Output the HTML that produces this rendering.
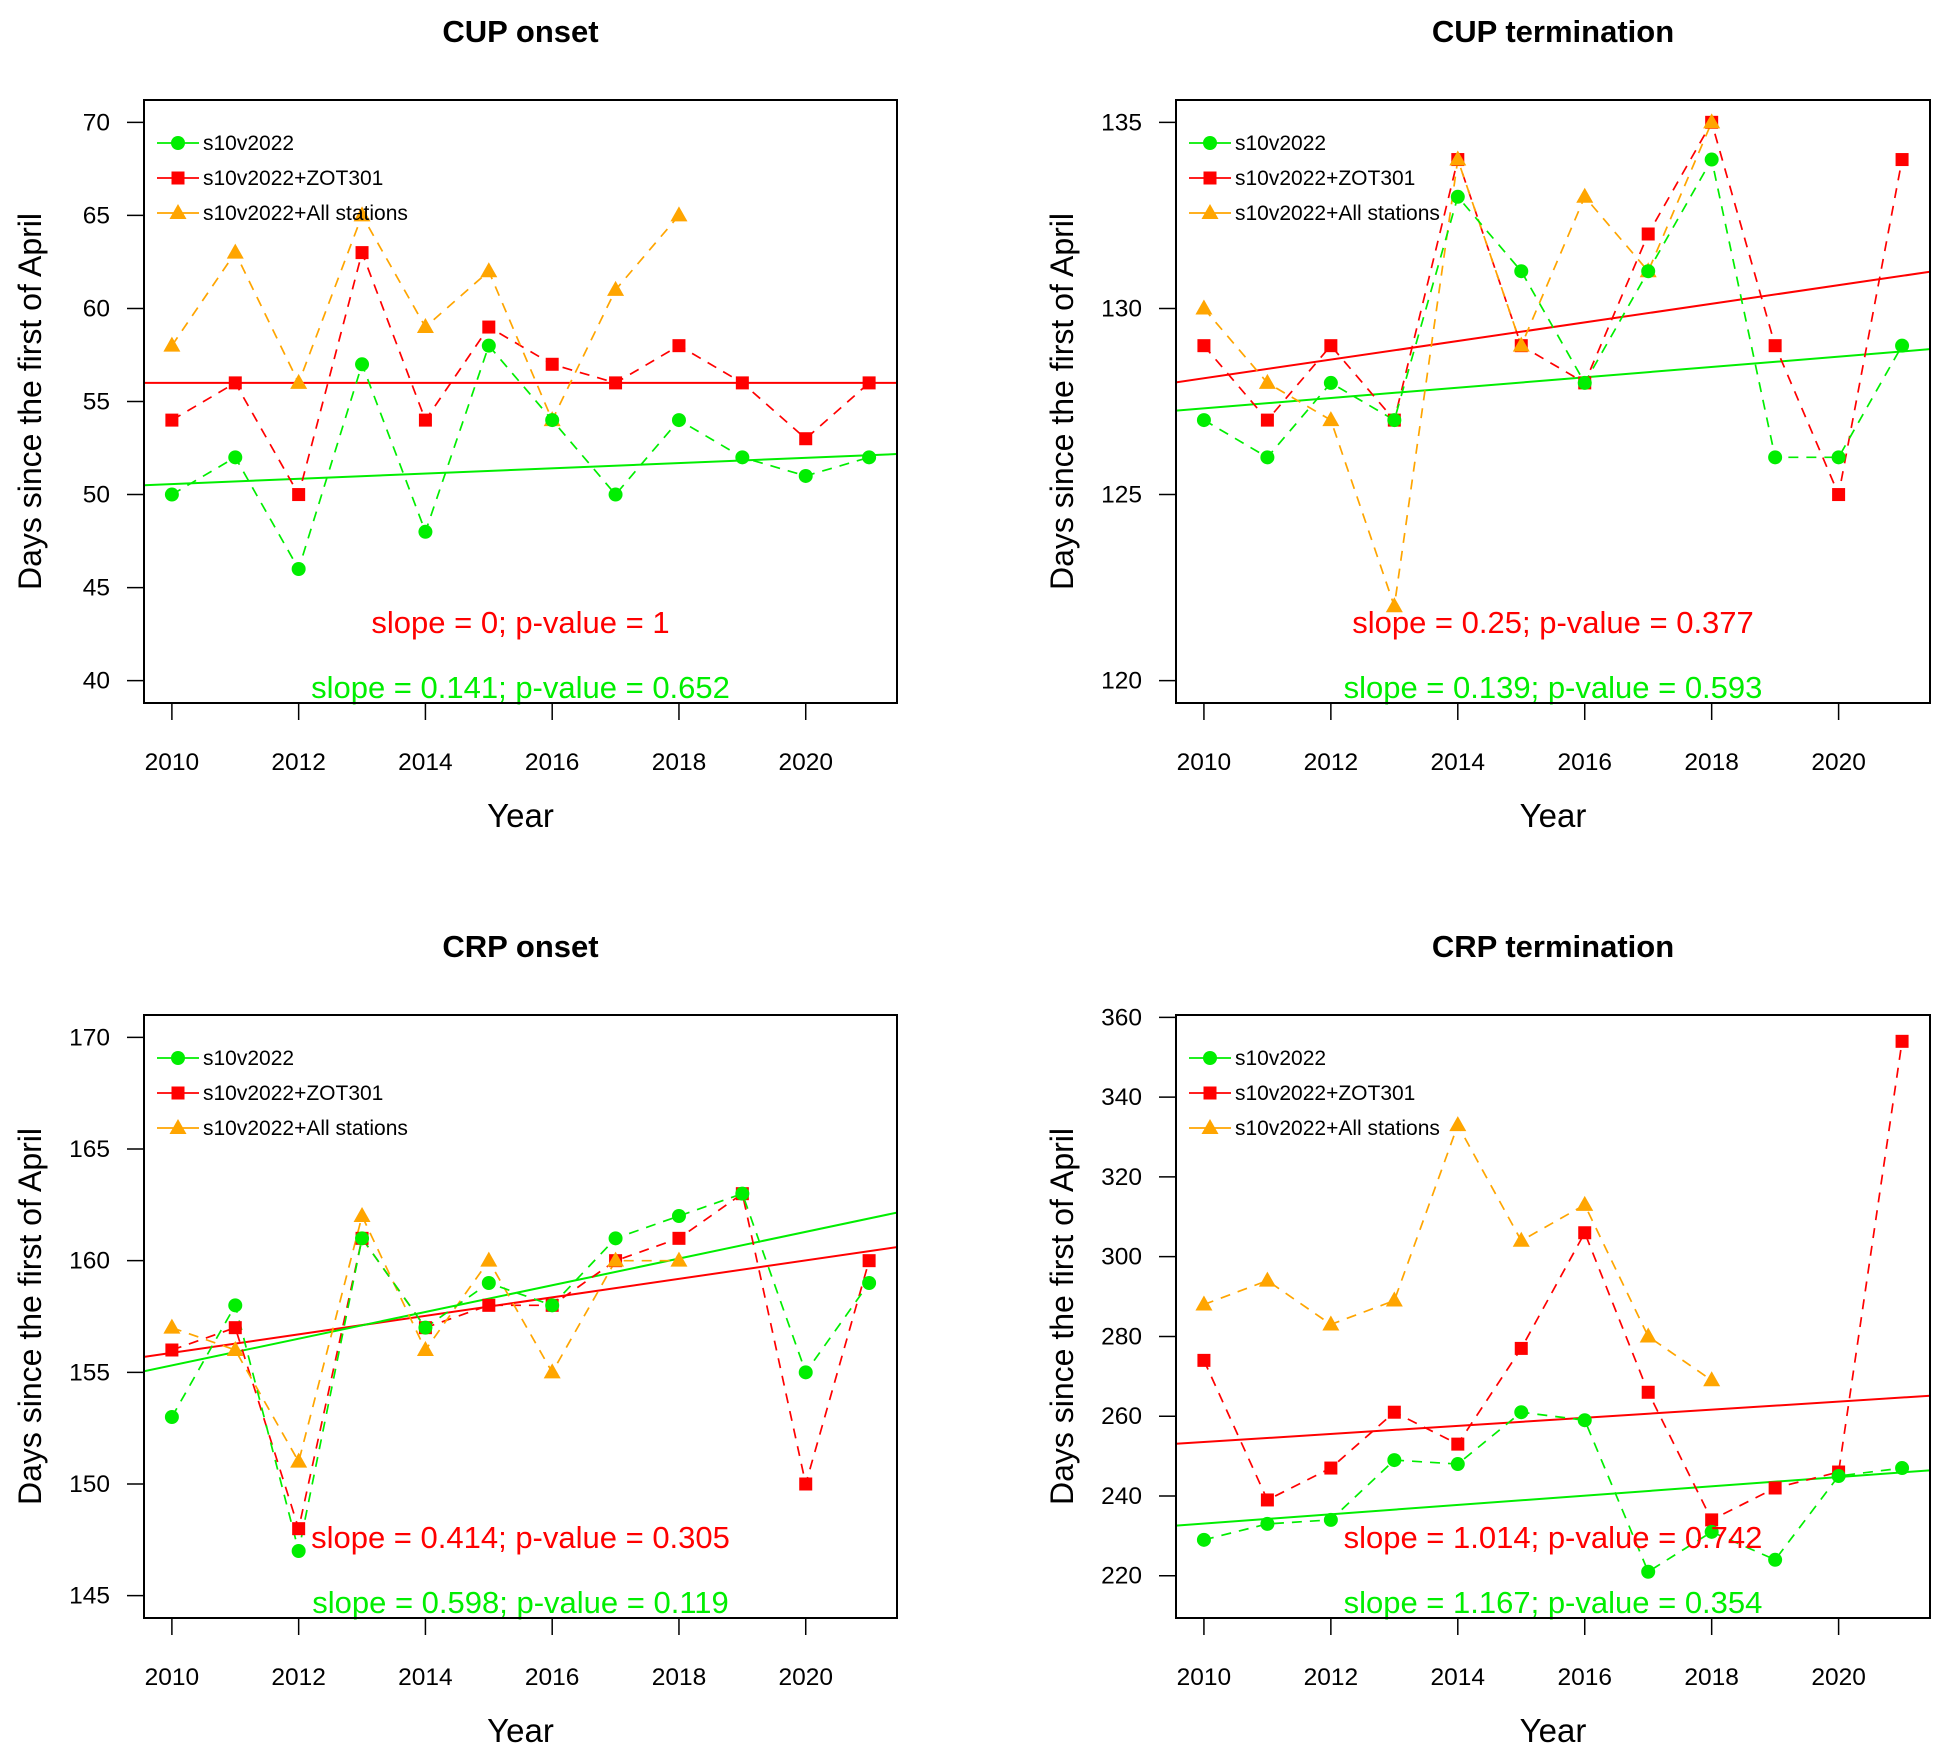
<!DOCTYPE html>
<html><head><meta charset="utf-8"><style>
body{margin:0;background:#fff;}
svg{display:block;font-family:"Liberation Sans",Arial,sans-serif;}
</style></head><body>
<svg id="chart" width="1950" height="1760" viewBox="0 0 1950 1760"></svg>
<script>
const years = [2010,2011,2012,2013,2014,2015,2016,2017,2018,2019,2020,2021];
const yearsAll = [2010,2011,2012,2013,2014,2015,2016,2017,2018];
const xTicks = [2010,2012,2014,2016,2018,2020];
const titles = ["CUP onset","CUP termination","CRP onset","CRP termination"];
const greenVals = [
 [50,52,46,57,48,58,54,50,54,52,51,52],
 [127,126,128,127,133,131,128,131,134,126,126,129],
 [153,158,147,161,157,159,158,161,162,163,155,159],
 [229,233,234,249,248,261,259,221,231,224,245,247]];
const redVals = [
 [54,56,50,63,54,59,57,56,58,56,53,56],
 [129,127,129,127,134,129,128,132,135,129,125,134],
 [156,157,148,161,157,158,158,160,161,163,150,160],
 [274,239,247,261,253,277,306,266,234,242,246,354]];
const orangeVals = [
 [58,63,56,65,59,62,54,61,65],
 [130,128,127,122,134,129,133,131,135],
 [157,156,151,162,156,160,155,160,160],
 [288,294,283,289,333,304,313,280,269]];
const redSlope = [0,0.25,0.414,1.014];
const redMid = [56,129.5,158.15,259.1];
const greenSlope = [0.141,0.139,0.598,1.167];
const greenMid = [51.34,128.08,158.6,239.5];
const redLabel = ["slope = 0; p-value = 1","slope = 0.25; p-value = 0.377","slope = 0.414; p-value = 0.305","slope = 1.014; p-value = 0.742"];
const greenLabel = ["slope = 0.141; p-value = 0.652","slope = 0.139; p-value = 0.593","slope = 0.598; p-value = 0.119","slope = 1.167; p-value = 0.354"];
const yTicks = [[40,45,50,55,60,65,70],[120,125,130,135],[145,150,155,160,165,170],[220,240,260,280,300,320,340,360]];
const yDomains = [[38.8,71.2],[119.4,135.6],[144,171],[209.4,360.6]];

const NS="http://www.w3.org/2000/svg";
const svg=document.getElementById('chart');
function mk(tag,attrs,parent,text){const e=document.createElementNS(NS,tag);for(const k in attrs)e.setAttribute(k,attrs[k]);if(text!==undefined)e.textContent=text;(parent||svg).appendChild(e);return e;}
const GREEN="#00ee00",RED="#ff0000",ORANGE="#ffa500";
const boxes=[[144,100,897,703],[1176,100,1930,703],[144,1015,897,1618],[1176,1015,1930,1618]];
const XMIN=2009.56,XMAX=2021.44;

function marker(g,shape,x,y,color){
 let m;
 if(shape==='c'){m=mk('circle',{cx:x,cy:y,r:7,fill:color},g);}
 else if(shape==='s'){m=mk('rect',{x:x-6.5,y:y-6.5,width:13,height:13,fill:color},g);}
 else {m=mk('polygon',{points:`${x},${y-9} ${x+8.5},${y+6} ${x-8.5},${y+6}`,fill:color},g);}
 return m;
}

for(let p=0;p<4;p++){
 const [L,T,R,B]=boxes[p];
 const [ymin,ymax]=yDomains[p];
 const sx=v=>L+(v-XMIN)/(XMAX-XMIN)*(R-L);
 const sy=v=>B-(v-ymin)/(ymax-ymin)*(B-T);
 const g=mk('g',{});
 
 
 const cx=(L+R)/2;
 const t=mk('text',{x:cx,y:T-58,'text-anchor':'middle','font-size':31,'font-weight':'bold'},g,titles[p]);
 
 
 yTicks[p].forEach(v=>{
  const y=sy(v);
  const tk=mk('line',{x1:L-17,x2:L,y1:y,y2:y,stroke:'#000','stroke-width':1.5},g);
  
  
  const tl=mk('text',{x:L-34,y:y+8,'text-anchor':'end','font-size':24.5},g,String(v));
  
  
 });
 xTicks.forEach(v=>{
  const x=sx(v);
  const tk=mk('line',{x1:x,x2:x,y1:B,y2:B+17,stroke:'#000','stroke-width':1.5},g);
  
  
  const tl=mk('text',{x:x,y:B+67,'text-anchor':'middle','font-size':24.5},g,String(v));
  
  
 });
 const xl=mk('text',{x:cx,y:B+124,'text-anchor':'middle','font-size':33},g,'Year');
 
 
 const ymid=(T+B)/2, yx=L-103;
 const yl=mk('text',{x:yx,y:ymid,'text-anchor':'middle','font-size':32,transform:`rotate(-90 ${yx} ${ymid})`},g,'Days since the first of April');
 
 
 const cid='clip'+p;
 const cp=mk('clipPath',{id:cid},g); mk('rect',{x:L,y:T,width:R-L,height:B-T},cp);
 const pg=mk('g',{'clip-path':`url(#${cid})`},g);
 const fits=[[redSlope[p],redMid[p],RED,'red-trend-line'],[greenSlope[p],greenMid[p],GREEN,'green-trend-line']];
 fits.forEach(([s,m,c,n])=>{
  const ln=mk('line',{x1:sx(XMIN),y1:sy(m+s*(XMIN-2015.5)),x2:sx(XMAX),y2:sy(m+s*(XMAX-2015.5)),stroke:c,'stroke-width':2},pg);
  
  
 });
 const series=[[years,redVals[p],RED,'s','zot301'],[yearsAll,orangeVals[p],ORANGE,'t','all-stations'],[years,greenVals[p],GREEN,'c','s10v2022']];
 series.forEach(([xs,ys,c,sh,n])=>{
  const pts=xs.map((x,i)=>sx(x)+','+sy(ys[i])).join(' ');
  const pl=mk('polyline',{points:pts,fill:'none',stroke:c,'stroke-width':1.7,'stroke-dasharray':'10 8'},pg);
  
  
 });
 series.forEach(([xs,ys,c,sh,n])=>{
  xs.forEach((x,i)=>{
   const m=marker(pg,sh,sx(x),sy(ys[i]),c);
   
   
  });
 });
 const leg=[[GREEN,'c','s10v2022'],[RED,'s','s10v2022+ZOT301'],[ORANGE,'t','s10v2022+All stations']];
 leg.forEach(([c,sh,lab],i)=>{
  const y=T+43+i*35;
  const lg=mk('g',{},g);
  
  
  mk('line',{x1:L+13,x2:L+55,y1:y,y2:y,stroke:c,'stroke-width':1.7},lg);
  marker(lg,sh,L+34,y,c);
  mk('text',{x:L+59,y:y+7,'font-size':21},lg,lab);
 });
 const rt=mk('text',{x:cx,y:T+533,'text-anchor':'middle','font-size':31,fill:RED},g,redLabel[p]);
 
 
 const gt=mk('text',{x:cx,y:T+598,'text-anchor':'middle','font-size':31,fill:GREEN},g,greenLabel[p]);
 
 
 const bx=mk('rect',{x:L,y:T,width:R-L,height:B-T,fill:'none',stroke:'#000','stroke-width':2},g);
 
 
}
</script>
</body></html>
